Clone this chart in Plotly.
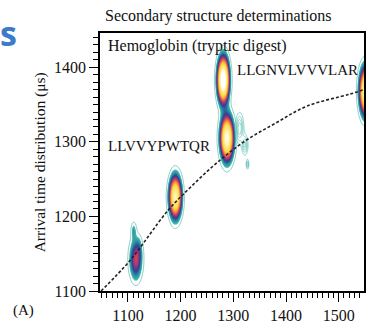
import numpy as np
import plotly.graph_objects as go

# Peptide ion features: drift-time peaks in the m/z vs arrival-time plane
peak_mz = [1115, 1111, 1121, 1190, 1281, 1288, 1551]
peak_at = [1142, 1181, 1158, 1226, 1383, 1305, 1368]
peak_amp = [0.32, 0.10, 0.06, 0.86, 1.15, 0.95, 0.90]
peak_wx = [7.5, 3.5, 4.0, 7.0, 6.5, 7.5, 7.0]
peak_wy = [17, 8, 10, 17, 18, 18, 19]

# Weak satellite features beside the LLGNVLVVVLAR doublet
weak_mz = [1312, 1322, 1327]
weak_at = [1318, 1296, 1270]
weak_amp = [0.040, 0.035, 0.030]
weak_wx = [4.5, 3.5, 1.6]
weak_wy = [12, 8, 4]

# Trend line through the charge-state family
trend_mz = [1049, 1104, 1176, 1220, 1269, 1322, 1380, 1440, 1521, 1548]
trend_at = [1100, 1141, 1208, 1240, 1272, 1301, 1325, 1348, 1364, 1370]

x_range = [1047, 1548]
y_range = [1100, 1446]
x_ticks = [1100, 1200, 1300, 1400, 1500]
y_ticks = [1100, 1200, 1300, 1400]

gx = np.arange(x_range[0], x_range[1] + 1, 1.0)
gy = np.arange(y_range[0], y_range[1] + 1, 1.0)
X, Y = np.meshgrid(gx, gy)


def density(mzs, ats, amps, wxs, wys):
    z = np.zeros_like(X)
    for mx, at, a, wx, wy in zip(mzs, ats, amps, wxs, wys):
        z += a * np.exp(-0.5 * (((X - mx) / wx) ** 2 + ((Y - at) / wy) ** 2))
    return z


Z = np.minimum(density(peak_mz, peak_at, peak_amp, peak_wx, peak_wy), 1.0)
Zw = density(weak_mz, weak_at, weak_amp, weak_wx, weak_wy)

cscale = [
    [0.0, "#ffffff"], [0.039, "#ffffff"],
    [0.04, "#6cc8bc"], [0.06, "#3db0a8"],
    [0.09, "#2d9ca4"], [0.12, "#2a7fa6"],
    [0.15, "#2b5a9c"], [0.18, "#3a3d8c"],
    [0.22, "#6e3a8c"], [0.27, "#b33a6c"],
    [0.32, "#e04c52"], [0.38, "#f07d3a"],
    [0.46, "#f6b23e"], [0.56, "#f8dc50"],
    [0.75, "#fbec8a"], [0.88, "#fff8d0"],
    [1.0, "#ffffff"],
]

fig = go.Figure()
fig.add_trace(go.Contour(
    x=gx, y=gy, z=Z, zmin=0, zmax=1, colorscale=cscale, showscale=False,
    contours=dict(start=0.04, end=1.0, size=0.01, coloring="fill"),
    line=dict(width=0), hoverinfo="skip",
))
fig.add_trace(go.Contour(
    x=gx, y=gy, z=Z, showscale=False,
    contours=dict(start=0.04, end=0.04, size=0.01, coloring="none"),
    line=dict(width=0.8, color="#5cbfb2"), hoverinfo="skip",
))
fig.add_trace(go.Contour(
    x=gx, y=gy, z=Zw, showscale=False,
    contours=dict(start=0.008, end=0.032, size=0.008, coloring="none"),
    line=dict(width=0.7, color="#5cbfb2"), hoverinfo="skip",
))
fig.add_trace(go.Scatter(
    x=trend_mz, y=trend_at, mode="lines",
    line=dict(color="#222", width=1.6, dash="3px,2px", shape="spline"),
    hoverinfo="skip", showlegend=False,
))

serif = "Liberation Serif"
axis_common = dict(
    showline=True, linecolor="black", linewidth=1.6, mirror=True,
    ticks="outside", ticklen=9, tickwidth=1.3, tickcolor="black",
    showgrid=False, zeroline=False,
    tickfont=dict(family=serif, size=16, color="#111"),
    minor=dict(ticks="outside", ticklen=5, tickwidth=1, tickcolor="black", dtick=10),
)
fig.update_xaxes(range=x_range, tickvals=x_ticks, **axis_common)
fig.update_yaxes(range=y_range, tickvals=y_ticks, **axis_common)

txt = dict(family=serif, size=15, color="#111")
fig.update_layout(
    width=368, height=326,
    margin=dict(l=100, r=2, t=33, b=31),
    paper_bgcolor="white", plot_bgcolor="white",
    showlegend=False,
    annotations=[
        dict(text="Secondary structure determinations", xref="paper", yref="paper",
             x=0.447, y=1.065, xanchor="center", yanchor="middle", showarrow=False,
             font=dict(family=serif, size=16, color="#111")),
        dict(text="Hemoglobin (tryptic digest)", x=1059, y=1428, xanchor="left",
             yanchor="middle", showarrow=False, font=dict(family=serif, size=16, color="#111")),
        dict(text="LLVVYPWTQR", x=1059, y=1294, xanchor="left", yanchor="middle",
             showarrow=False, font=txt),
        dict(text="LLGNVLVVVLAR", x=1304, y=1397, xanchor="left", yanchor="middle",
             showarrow=False, font=txt),
        dict(text="Arrival time distribution (μs)", xref="paper", yref="paper",
             x=-0.226, y=0.5, textangle=-90, xanchor="center", yanchor="middle",
             showarrow=False, font=dict(family=serif, size=15.5, color="#111")),
        dict(text="(A)", xref="paper", yref="paper", x=-0.29, y=-0.076,
             xanchor="center", yanchor="middle", showarrow=False, font=txt),
        dict(text="<b>s</b>", xref="paper", yref="paper", x=-0.385, y=1.0,
             xanchor="left", yanchor="middle", showarrow=False,
             font=dict(family="Open Sans", size=34, color="#3b7bc8")),
    ],
)

fig.write_html("out.html")
